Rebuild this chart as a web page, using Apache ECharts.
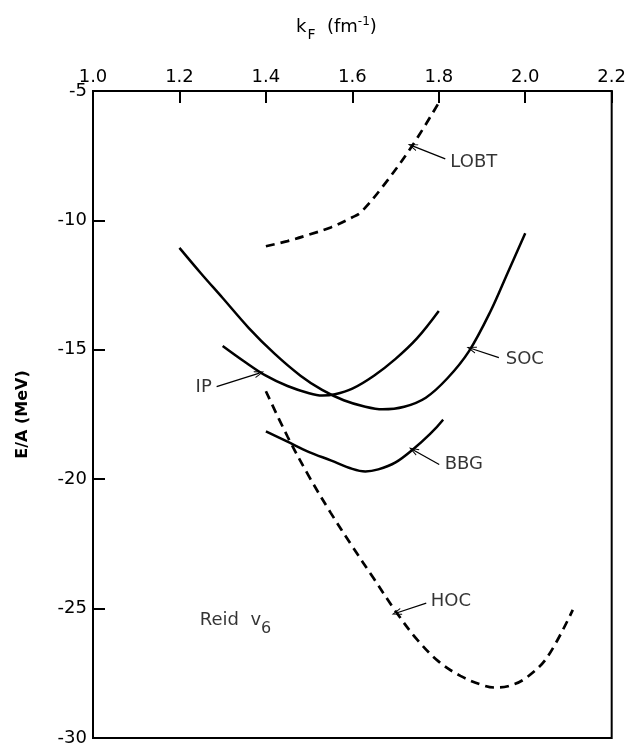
<!DOCTYPE html>
<html>
<head>
<meta charset="utf-8">
<script src="https://cdn.jsdelivr.net/npm/echarts@6/dist/echarts.min.js"></script>
<style>
html,body{margin:0;padding:0;background:#fff;}
#chart{width:629px;height:747px;}
</style>
</head>
<body>
<div id="chart"></div>
<script>
// ---- data ----
var xTicks = [1.0, 1.2, 1.4, 1.6, 1.8, 2.0, 2.2];
var yTicks = [-30, -25, -20, -15, -10, -5];

var kLOBT = [1.40, 1.45, 1.50, 1.55, 1.60, 1.62, 1.67, 1.74, 1.80];
var eLOBT = [-11.0, -10.8, -10.55, -10.27, -9.88, -9.68, -8.7, -7.08, -5.45];

var kSOC = [1.20, 1.25, 1.30, 1.36, 1.42, 1.48, 1.53, 1.58, 1.63, 1.67, 1.72, 1.77, 1.82, 1.87, 1.92, 1.96, 2.00];
var eSOC = [-11.06, -12.05, -13.0, -14.15, -15.15, -16.0, -16.55, -16.95, -17.2, -17.3, -17.2, -16.85, -16.1, -15.05, -13.5, -12.0, -10.5];

var kIP = [1.30, 1.35, 1.40, 1.45, 1.50, 1.53, 1.56, 1.60, 1.65, 1.70, 1.75, 1.80];
var eIP = [-14.85, -15.45, -16.0, -16.4, -16.68, -16.77, -16.72, -16.5, -16.0, -15.35, -14.55, -13.5];

var kBBG = [1.40, 1.45, 1.50, 1.55, 1.60, 1.63, 1.66, 1.70, 1.74, 1.78, 1.81];
var eBBG = [-18.15, -18.55, -18.95, -19.27, -19.6, -19.7, -19.62, -19.35, -18.85, -18.25, -17.7];

var kHOC = [1.40, 1.45, 1.50, 1.55, 1.60, 1.65, 1.70, 1.75, 1.80, 1.85, 1.90, 1.93, 1.96, 2.00, 2.05, 2.11];
var eHOC = [-16.6, -18.35, -19.9, -21.3, -22.6, -23.85, -25.1, -26.2, -27.05, -27.6, -27.95, -28.05, -28.0, -27.7, -26.9, -25.05];

// curve labels: [x, y, text]
var labelPts = [
  [1.881, -7.74, 'LOBT'],
  [1.256, -16.46, 'IP'],
  [1.999, -15.38, 'SOC'],
  [1.858, -19.43, 'BBG'],
  [1.828, -24.71, 'HOC']
];
// arrows: [fromX, fromY, toX, toY]
var arrows = [
  [1.815, -7.62, 1.739, -7.12],
  [1.286, -16.42, 1.385, -15.9],
  [1.939, -15.3, 1.875, -14.95],
  [1.801, -19.43, 1.741, -18.87],
  [1.771, -24.79, 1.702, -25.17]
];

function pairs(xs, ys) { return xs.map(function (x, i) { return [x, ys[i]]; }); }

var FONT = 'DejaVu Sans';
var chart = echarts.init(document.getElementById('chart'), null, {renderer: 'canvas'});

function curve(name, xs, ys, dashed) {
  return {
    name: name, type: 'line', data: pairs(xs, ys), smooth: 0.35,
    showSymbol: false, symbol: 'none', animation: false, silent: true,
    lineStyle: {color: '#000', width: dashed ? 2.7 : 2.5, type: dashed ? [9, 6] : 'solid'}
  };
}

var option = {
  animation: false,
  backgroundColor: '#fff',
  grid: {left: 93, right: 16, top: 91, bottom: 8, show: true, borderColor: '#000', borderWidth: 2, backgroundColor: 'transparent'},
  xAxis: {
    type: 'value', position: 'top', min: 1.0, max: 2.2, interval: 0.2,
    axisLine: {show: true, lineStyle: {color: '#000', width: 2}},
    axisTick: {show: true, inside: true, length: 12, lineStyle: {color: '#000', width: 2}},
    axisLabel: {color: '#000', fontFamily: FONT, fontSize: 18, margin: 5,
      formatter: function (v) { return v.toFixed(1); }},
    splitLine: {show: false}
  },
  yAxis: {
    type: 'value', min: -30, max: -5, interval: 5,
    axisLine: {show: true, lineStyle: {color: '#000', width: 2}},
    axisTick: {show: true, inside: true, length: 12, lineStyle: {color: '#000', width: 2}},
    axisLabel: {color: '#000', fontFamily: FONT, fontSize: 18, margin: 6},
    splitLine: {show: false},
    name: 'E/A (MeV)', nameLocation: 'middle', nameRotate: 90, nameGap: 62,
    nameTextStyle: {color: '#000', fontFamily: FONT, fontSize: 16, fontWeight: 'bold'}
  },
  graphic: [{
    type: 'text', left: 296, top: 16, silent: true,
    style: {
      text: 'k{sub|F}  (fm{sup|-1})',
      font: '18px "DejaVu Sans"', fill: '#000',
      rich: {
        sub: {fontSize: 14, fontFamily: FONT, fill: '#000', padding: [17, 0, 0, 1]},
        sup: {fontSize: 12, fontFamily: FONT, fill: '#000', padding: [0, 0, 10, 0]}
      }
    }
  }],
  series: [
    curve('LOBT', kLOBT, eLOBT, true),
    curve('SOC', kSOC, eSOC, false),
    curve('IP', kIP, eIP, false),
    curve('BBG', kBBG, eBBG, false),
    curve('HOC', kHOC, eHOC, true),
    {
      name: 'labels', type: 'scatter', symbolSize: 0, silent: true, animation: false,
      data: labelPts,
      label: {show: true, position: 'inside', color: '#000', fontFamily: FONT, fontSize: 18,
        formatter: function (p) { return p.data[2]; }},
      markLine: {
        silent: true, animation: false,
        symbol: ['none', 'path://M5,0 L10,12 L8.6,12 L5,3.2 L1.4,12 L0,12 Z'],
        symbolSize: [7, 10],
        lineStyle: {color: '#000', width: 1.3, type: 'solid'},
        label: {show: false},
        data: arrows.map(function (a) { return [{coord: [a[0], a[1]]}, {coord: [a[2], a[3]]}]; })
      }
    },
    {
      name: 'note', type: 'scatter', symbolSize: 0, silent: true, animation: false,
      data: [[1.247, -25.45]],
      label: {show: true, position: 'right', distance: 0, color: '#000', fontFamily: FONT, fontSize: 18,
        formatter: 'Reid  v{s|6}',
        rich: {s: {fontSize: 16, fontFamily: FONT, color: '#000', padding: [18, 0, 0, 0]}}}
    }
  ]
};
chart.setOption(option);
</script>
</body>
</html>
